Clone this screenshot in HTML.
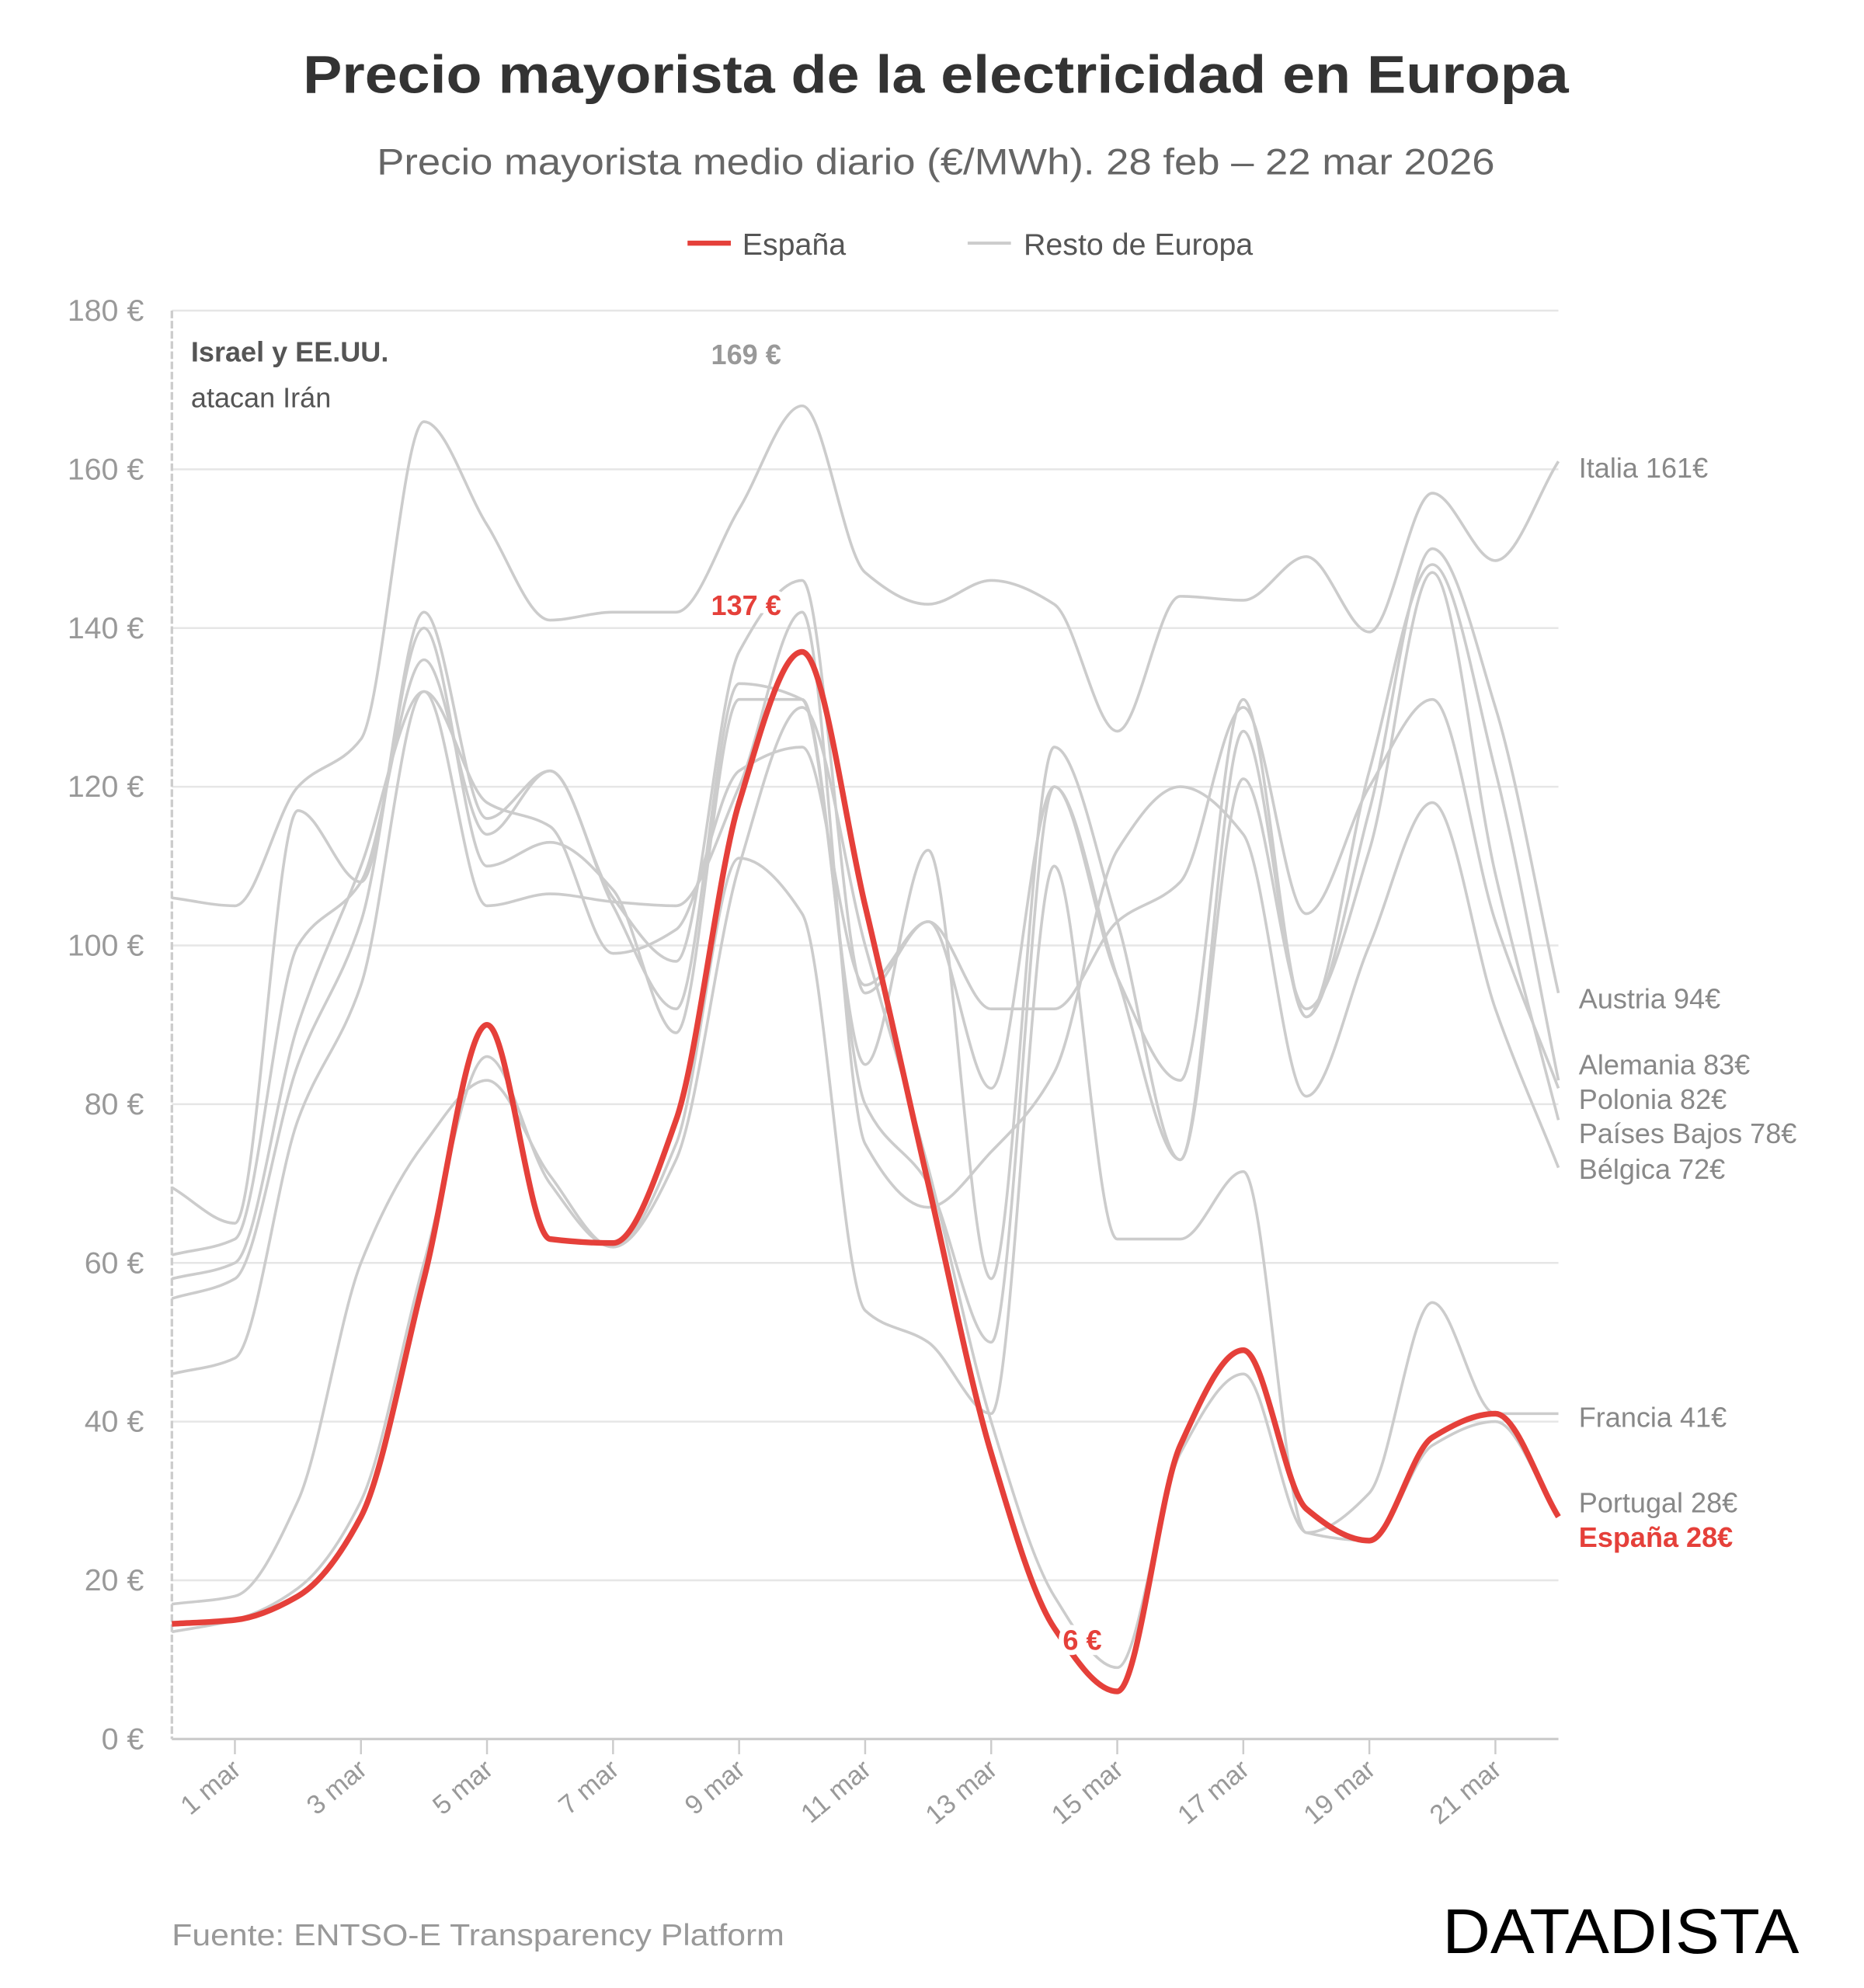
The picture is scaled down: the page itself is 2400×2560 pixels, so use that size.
<!DOCTYPE html>
<html><head><meta charset="utf-8"><style>
html,body{margin:0;padding:0;background:#fff;}
svg{display:block;}
text{font-family:"Liberation Sans",sans-serif;}
</style></head><body>
<svg id="chart" width="2400" height="2560" viewBox="0 0 1464 1561.6" xmlns="http://www.w3.org/2000/svg">
<rect width="1464" height="1561.6" fill="#fff"/>
<text x="238" y="73" font-size="42" font-weight="bold" fill="#333" textLength="994" lengthAdjust="spacingAndGlyphs">Precio mayorista de la electricidad en Europa</text>
<text x="296" y="137" font-size="29" fill="#666" textLength="878" lengthAdjust="spacingAndGlyphs">Precio mayorista medio diario (€/MWh). 28 feb – 22 mar 2026</text>
<g>
<line x1="540" y1="191" x2="574" y2="191" stroke="#e5403a" stroke-width="4"/>
<text x="583" y="200" font-size="24" fill="#555">España</text>
<line x1="760" y1="191" x2="794" y2="191" stroke="#ccc" stroke-width="2.5"/>
<text x="804" y="200" font-size="24" fill="#555">Resto de Europa</text>
</g>
<g id="grid"></g>
<g id="lines"></g>
<g id="labels"></g>
<text x="150" y="284" font-size="22" font-weight="bold" fill="#555">Israel y EE.UU.</text>
<text x="150" y="320" font-size="22" fill="#555">atacan Irán</text>
<text x="135" y="1528" font-size="24" fill="#999" textLength="481" lengthAdjust="spacingAndGlyphs">Fuente: ENTSO-E Transparency Platform</text>
<text x="1133" y="1534" font-size="50" fill="#000" textLength="280" lengthAdjust="spacingAndGlyphs">DATADISTA</text>
</svg>
<script>
const dates = ["28 feb","1 mar","2 mar","3 mar","4 mar","5 mar","6 mar","7 mar","8 mar","9 mar","10 mar","11 mar","12 mar","13 mar","14 mar","15 mar","16 mar","17 mar","18 mar","19 mar","20 mar","21 mar","22 mar"];
const yTicks = [0,20,40,60,80,100,120,140,160,180];
const espana = [14.5,15,18,28,58,90,63,62.5,78,118,137,105,70,36,14,6,37,49,29,25,38,41,28];
const portugal = [13.5,15,19,30,60,86,70,62,73,110,130,100,72,40,18,9,36,46,26,25,37,40,28];
const italia = [106,105,120,126,166,153,141,142,142,155,168,147,143,146,143,127,144,143.5,149,139.5,157,148.5,161];
const francia = [17,18,30,60,75,83,71,62,75,111,104,54,50,41,110,63,63,71.5,26,31,55,41,41];
const austria = [69.5,65,117,108,142,116,122,106,98,137,146,94,103,82,120,96,83,131,91,117,150,130,94];
const alemania = [61,63,100,108,136,114,122,105,92,133,131,85,112,58,125,103,73,127,91,122,148,122,83];
const polonia = [58,60,90,110,132,118,115,99,102,122,125,95,103,92,92,103,108,130,104,120,131,103,82];
const paisesBajos = [55.5,58,85,103,140,110,113,107,89,131,131,80,70,50,120,96,73,121,92,112,147,109,78];
const belgica = [46,48,78,95,132,105,106.5,105.5,105,120,142,75,67,74,84,112,120,114,81,100,118,92,72];
const grayNames = ["Italia","Francia","Austria","Alemania","Polonia","Países Bajos","Bélgica","Portugal"];
const grays = [italia,francia,austria,alemania,polonia,paisesBajos,belgica,portugal];
const endLabelY = [367,1113,784,836,863,890,918,1180];

const X0=135, X1=1224, Y0=1366, Y1=244;
function xs(i){return X0+(X1-X0)*i/(dates.length-1);}
function ys(v){return Y0-(Y0-Y1)*v/180;}
const NS="http://www.w3.org/2000/svg";
function mk(tag,attrs,parent){const e=document.createElementNS(NS,tag);for(const k in attrs)e.setAttribute(k,attrs[k]);parent.appendChild(e);return e;}
function pathD(vals){
  const p=vals.map((v,i)=>[xs(i),ys(v)]);
  const n=p.length;
  const h=p[1][0]-p[0][0];
  const s=[];for(let i=0;i<n-1;i++)s.push((p[i+1][1]-p[i][1])/h);
  const m=new Array(n);
  m[0]=s[0];m[n-1]=s[n-2];
  for(let i=1;i<n-1;i++){
    if(s[i-1]*s[i]<=0)m[i]=0;
    else{const a=s[i-1],b=s[i];m[i]=Math.sign(a)*Math.min(Math.abs(a),Math.abs(b),0.5*Math.abs((a+b)/2)*2);m[i]=(2*a*b)/(a+b);}
  }
  let d="M"+p[0][0]+","+p[0][1];
  for(let i=0;i<n-1;i++){
    const c1=[p[i][0]+h/3,p[i][1]+m[i]*h/3];
    const c2=[p[i+1][0]-h/3,p[i+1][1]-m[i+1]*h/3];
    d+=" C"+c1+" "+c2+" "+p[i+1];
  }
  return d;
}
const grid=document.getElementById('grid');
yTicks.forEach(t=>{
  if(t>0){
    const l=mk('line',{x1:X0,x2:X1,y1:ys(t),y2:ys(t),stroke:'#e6e6e6','stroke-width':1.5},grid);
    
    
  }
  const tx=mk('text',{x:113,y:ys(t)+8,'text-anchor':'end','font-size':24,fill:'#999'},grid);
  tx.textContent=t+' €';
  
  
});
const ax=mk('line',{x1:X0,x2:X1,y1:Y0,y2:Y0,stroke:'#ccc','stroke-width':2},grid);


const ev=mk('line',{x1:X0,x2:X0,y1:Y1,y2:Y0,stroke:'#ccc','stroke-width':2,'stroke-dasharray':'6,2'},grid);


dates.forEach((d,i)=>{
  if(i%2!==1)return;
  const tk=mk('line',{x1:xs(i),x2:xs(i),y1:Y0,y2:Y0+12,stroke:'#ccc','stroke-width':1.5},grid);
  
  
  const tx=mk('text',{x:xs(i)+6,y:Y0+26,'text-anchor':'end','font-size':21,fill:'#999',transform:`rotate(-40 ${xs(i)+6} ${Y0+26})`},grid);
  tx.textContent=d;
  
  
});
const lines=document.getElementById('lines');
grays.forEach((s,k)=>{
  const p=mk('path',{d:pathD(s),fill:'none',stroke:'#ccc','stroke-width':2.2},lines);
  
  
});
const labels=document.getElementById('labels');
function halo(txt,x,y,fill,name){
  const h=mk('text',{x,y,'text-anchor':'middle','font-size':22,'font-weight':'bold',fill:'none',stroke:'#fff','stroke-width':8},labels);
  h.textContent=txt;
  
  
  const t=mk('text',{x,y,'text-anchor':'middle','font-size':22,'font-weight':'bold',fill},labels);
  t.textContent=txt;
  
  
}
const sp=mk('path',{d:pathD(espana),fill:'none',stroke:'#e5403a','stroke-width':4.5},lines);


halo('169 €',586,286,'#999','italia-peak-label');
halo('137 €',586,483,'#e5403a','espana-peak-label');
halo('6 €',850,1296,'#e5403a','espana-min-label');
grays.forEach((s,k)=>{
  const t=mk('text',{x:1240,y:endLabelY[k]+8,'font-size':22,fill:'#888'},labels);
  t.textContent=grayNames[k]+' '+Math.round(s[s.length-1])+'€';
  
  
});
const es=mk('text',{x:1240,y:1215,'font-size':22,'font-weight':'bold',fill:'#e5403a'},labels);
es.textContent='España '+espana[espana.length-1]+'€';


</script>
</body></html>
